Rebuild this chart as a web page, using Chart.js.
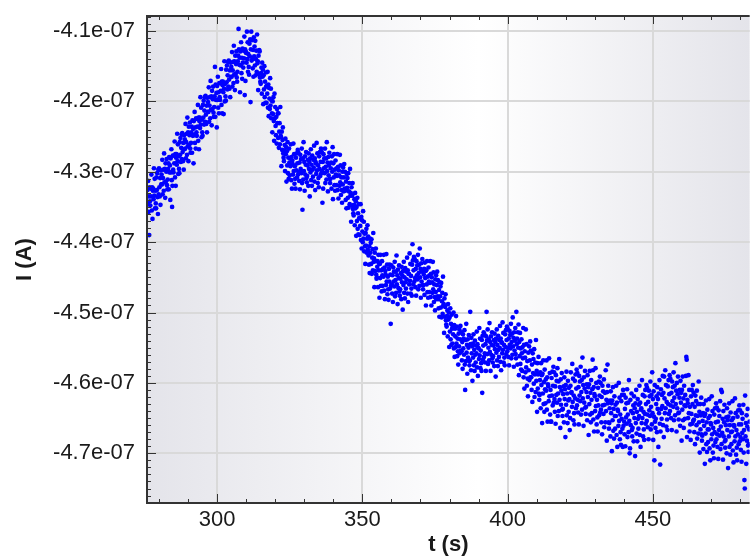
<!DOCTYPE html>
<html>
<head>
<meta charset="utf-8">
<style>
  html, body { margin: 0; padding: 0; background: #ffffff; }
  #c { display: block; }
</style>
<script src="https://cdn.jsdelivr.net/npm/chart.js@4.4.1/dist/chart.umd.min.js"></script>
</head>
<body>
<canvas id="c" width="752" height="558"></canvas>
<script>
// Sampling grid of the measurement (seconds)
const tStart = 276.0;
const tStep = 0.125;

// Current, in nA (8 samples per second, 276 s .. 483 s)
const currentNA = [
-432.6,-434.6,-431.3,-435.7,-433.5,-439.0,-432.2,-434.2,
-434.8,-432.4,-433.5,-430.4,-435.5,-432.2,-436.7,-432.7,
-432.4,-433.9,-429.5,-433.4,-431.0,-435.2,-432.7,-434.5,
-435.2,-430.8,-432.6,-430.2,-433.6,-436.0,-429.7,-433.2,
-429.5,-432.2,-433.5,-430.9,-434.7,-429.8,-431.8,-430.4,
-431.8,-428.3,-433.2,-430.9,-429.7,-432.7,-427.4,-431.5,
-429.6,-433.7,-428.8,-431.4,-430.0,-428.2,-431.9,-432.5,
-431.1,-429.6,-428.8,-432.5,-427.9,-430.1,-429.1,-434.0,
-428.1,-430.1,-426.8,-431.2,-435.0,-432.0,-427.7,-429.7,
-430.1,-427.7,-428.8,-425.7,-430.8,-427.5,-432.0,-428.0,
-427.5,-429.0,-424.6,-428.5,-426.1,-430.3,-427.8,-429.6,
-430.2,-425.8,-427.6,-425.2,-428.6,-426.6,-424.7,-428.2,
-424.5,-427.2,-428.5,-425.9,-429.7,-424.8,-426.8,-425.4,
-426.7,-423.2,-428.1,-425.8,-424.6,-427.6,-422.3,-426.4,
-424.4,-428.5,-423.6,-426.2,-424.8,-423.0,-426.7,-427.3,
-425.9,-424.4,-423.6,-427.3,-422.7,-424.9,-423.9,-428.8,
-422.8,-424.8,-421.5,-425.9,-423.7,-426.7,-422.4,-424.4,
-424.9,-422.5,-423.6,-420.5,-425.6,-422.3,-426.8,-422.8,
-422.3,-423.8,-419.4,-423.3,-420.9,-425.1,-422.6,-424.4,
-424.9,-420.5,-422.3,-419.9,-423.3,-421.3,-419.4,-422.9,
-419.2,-421.9,-423.2,-420.6,-424.4,-419.5,-421.5,-420.1,
-421.5,-418.0,-422.9,-420.6,-419.4,-422.4,-417.1,-421.2,
-419.3,-423.4,-418.5,-421.1,-419.7,-417.9,-421.6,-422.2,
-420.8,-419.3,-415.1,-422.2,-417.6,-419.8,-418.8,-423.7,
-417.8,-419.8,-416.5,-420.9,-418.7,-421.7,-417.4,-419.4,
-419.8,-417.4,-418.5,-415.4,-420.5,-417.2,-421.7,-417.7,
-417.2,-418.7,-421.8,-418.2,-414.3,-420.0,-417.5,-419.3,
-419.9,-415.5,-417.3,-414.9,-418.3,-416.3,-414.4,-417.9,
-414.2,-416.9,-418.2,-415.6,-419.4,-414.5,-416.5,-415.1,
-416.5,-413.0,-417.9,-415.6,-414.4,-417.4,-412.1,-416.2,
-414.3,-418.4,-413.5,-416.1,-414.7,-412.9,-416.6,-417.2,
-415.8,-414.3,-413.5,-409.7,-412.6,-414.8,-413.8,-418.7,
-412.9,-414.9,-411.6,-416.0,-413.8,-416.8,-412.5,-414.5,
-415.2,-412.8,-413.9,-410.8,-419.1,-412.6,-417.1,-413.1,
-413.0,-414.5,-410.1,-414.0,-411.6,-415.8,-413.3,-415.1,
-416.2,-411.8,-413.6,-411.2,-420.1,-412.6,-410.1,-414.2,
-411.3,-414.0,-415.3,-412.7,-416.5,-410.9,-413.6,-412.2,
-414.9,-411.4,-416.3,-414.0,-412.8,-415.8,-410.5,-414.6,
-414.3,-418.4,-413.5,-416.1,-412.7,-412.9,-416.6,-417.2,
-417.5,-416.0,-415.2,-418.9,-414.5,-416.5,-415.5,-420.4,
-416.3,-418.3,-415.0,-419.4,-417.2,-420.2,-415.9,-417.9,
-420.2,-417.8,-418.9,-415.8,-420.9,-417.6,-422.1,-418.1,
-419.6,-421.1,-416.7,-420.6,-418.2,-422.4,-419.9,-421.7,
-424.4,-420.0,-421.8,-419.4,-422.8,-425.6,-418.9,-422.4,
-420.8,-423.5,-424.8,-422.2,-426.0,-421.1,-423.1,-421.7,
-425.2,-421.7,-426.6,-424.3,-423.1,-426.1,-420.8,-424.9,
-425.1,-429.2,-424.3,-426.9,-425.5,-423.7,-427.4,-428.0,
-428.5,-427.0,-426.2,-429.9,-425.3,-427.5,-426.5,-431.4,
-427.1,-429.1,-425.8,-430.2,-428.0,-431.0,-426.7,-428.7,
-430.5,-428.1,-429.2,-426.1,-431.2,-427.9,-432.4,-428.4,
-428.9,-430.4,-426.0,-429.9,-427.5,-431.7,-429.2,-431.0,
-432.4,-428.0,-429.8,-427.4,-430.8,-428.8,-426.9,-430.4,
-427.3,-430.0,-431.3,-428.7,-432.5,-427.6,-429.6,-428.2,
-430.2,-426.7,-431.6,-435.4,-428.1,-431.1,-425.8,-429.9,
-428.6,-432.7,-427.8,-430.4,-429.0,-427.2,-430.9,-431.5,
-430.6,-429.1,-428.3,-432.0,-427.4,-429.6,-428.6,-433.5,
-428.1,-430.1,-426.8,-431.2,-429.0,-432.0,-427.7,-429.7,
-430.7,-428.3,-429.4,-426.3,-431.4,-428.1,-432.6,-428.6,
-428.8,-430.3,-425.9,-429.8,-427.4,-431.6,-429.1,-430.9,
-432.2,-427.8,-429.6,-427.2,-430.6,-428.6,-426.7,-430.2,
-427.2,-429.9,-434.4,-428.6,-432.4,-427.5,-429.5,-428.1,
-430.2,-426.7,-431.6,-429.3,-428.1,-431.1,-425.8,-429.9,
-428.7,-432.8,-427.9,-430.5,-429.1,-427.3,-431.0,-431.6,
-431.0,-429.5,-428.7,-432.4,-427.8,-430.0,-426.5,-433.9,
-428.8,-430.8,-427.5,-431.9,-429.7,-432.7,-428.4,-430.4,
-431.9,-429.5,-430.6,-427.5,-432.6,-429.3,-433.8,-429.8,
-430.5,-432.0,-427.6,-431.5,-429.1,-433.3,-430.8,-432.6,
-434.4,-430.0,-431.8,-429.4,-432.8,-430.8,-428.9,-432.4,
-430.0,-432.7,-434.0,-431.4,-435.2,-430.3,-432.3,-430.9,
-433.7,-430.2,-435.1,-432.8,-431.6,-434.6,-429.6,-433.4,
-433.0,-437.1,-432.2,-434.8,-433.4,-431.6,-435.3,-435.9,
-436.2,-434.7,-433.9,-437.6,-433.0,-435.2,-434.2,-439.1,
-435.0,-437.0,-433.7,-438.1,-435.9,-438.9,-434.6,-436.6,
-439.0,-436.6,-437.7,-434.6,-439.7,-436.4,-440.9,-436.9,
-438.5,-440.0,-435.6,-439.5,-437.1,-441.3,-438.8,-440.6,
-443.1,-438.7,-440.5,-438.1,-441.5,-439.5,-437.6,-441.1,
-439.2,-441.9,-443.2,-440.6,-444.4,-439.5,-441.5,-440.1,
-443.1,-439.6,-444.5,-442.2,-441.0,-444.0,-438.7,-442.8,
-442.3,-446.4,-441.5,-444.1,-442.7,-440.9,-444.6,-445.2,
-445.0,-443.5,-442.7,-446.4,-441.8,-444.0,-443.0,-447.9,
-443.1,-445.1,-441.8,-446.2,-444.0,-447.0,-442.7,-444.7,
-446.2,-443.8,-444.9,-441.8,-446.9,-443.6,-448.1,-444.1,
-444.6,-446.1,-441.7,-445.6,-443.2,-447.4,-444.9,-446.7,
-448.2,-443.8,-445.6,-443.2,-446.6,-444.6,-451.6,-446.2,
-443.3,-446.0,-447.3,-444.7,-448.5,-443.6,-445.6,-444.2,
-446.3,-442.8,-447.7,-445.4,-444.2,-447.2,-441.9,-446.0,
-444.7,-448.8,-443.9,-446.5,-445.1,-443.3,-447.0,-447.6,
-446.7,-445.2,-444.4,-448.1,-443.5,-445.7,-444.7,-449.6,
-444.1,-446.1,-442.8,-447.2,-445.0,-448.0,-443.7,-445.7,
-446.6,-444.2,-445.3,-442.2,-447.3,-444.0,-448.5,-444.5,
-444.5,-446.0,-441.6,-445.5,-443.1,-447.3,-444.8,-446.6,
-447.6,-443.2,-440.3,-442.6,-446.0,-444.0,-442.1,-445.6,
-442.4,-445.1,-446.4,-443.8,-447.6,-442.7,-444.7,-443.3,
-445.3,-441.8,-446.7,-444.4,-443.2,-446.2,-440.9,-445.0,
-443.8,-447.9,-443.0,-445.6,-444.2,-442.4,-446.1,-446.7,
-446.1,-444.6,-443.8,-447.5,-442.9,-445.1,-444.1,-449.0,
-444.0,-446.0,-442.7,-447.1,-444.9,-447.9,-443.6,-445.6,
-447.1,-444.7,-445.8,-442.7,-447.8,-444.5,-449.0,-445.0,
-445.7,-447.2,-442.8,-446.7,-444.3,-448.5,-446.0,-447.8,
-449.7,-445.3,-447.1,-444.7,-448.1,-446.1,-444.2,-447.7,
-445.4,-448.1,-449.4,-446.8,-450.6,-445.7,-447.7,-446.3,
-449.3,-445.8,-450.7,-448.4,-447.2,-450.2,-444.9,-449.0,
-448.8,-452.9,-448.0,-450.6,-449.2,-447.4,-451.1,-451.7,
-452.0,-450.5,-449.7,-453.4,-448.8,-451.0,-450.0,-454.9,
-450.7,-452.7,-449.4,-453.8,-451.6,-454.6,-450.3,-452.3,
-454.4,-452.0,-453.1,-450.0,-455.1,-451.8,-456.3,-452.3,
-453.4,-454.9,-450.5,-454.4,-452.0,-456.2,-453.7,-455.5,
-457.4,-453.0,-454.8,-452.4,-455.8,-453.8,-451.9,-455.4,
-452.8,-455.5,-456.8,-454.2,-458.0,-453.1,-455.1,-453.7,
-456.0,-452.5,-457.4,-461.0,-453.9,-456.9,-451.6,-455.7,
-454.6,-458.7,-453.8,-456.4,-455.0,-453.2,-456.9,-457.5,
-456.8,-449.9,-454.5,-458.2,-453.6,-455.8,-454.8,-459.7,
-454.4,-456.4,-453.1,-457.5,-455.3,-458.3,-454.0,-456.0,
-457.1,-454.7,-455.8,-452.7,-457.8,-454.5,-459.0,-455.0,
-455.1,-456.6,-452.2,-456.1,-453.7,-457.9,-455.4,-457.2,
-458.3,-453.9,-461.4,-453.3,-456.7,-454.7,-452.8,-456.3,
-453.1,-455.8,-457.1,-454.5,-458.3,-453.4,-449.9,-454.0,
-455.9,-452.4,-457.3,-455.0,-453.8,-456.8,-451.5,-455.6,
-454.2,-458.3,-453.4,-456.0,-454.6,-452.8,-456.5,-457.1,
-456.2,-454.7,-453.9,-457.6,-453.0,-455.2,-454.2,-459.1,
-453.7,-455.7,-452.4,-456.8,-454.6,-457.6,-453.3,-455.3,
-456.3,-453.9,-455.0,-451.9,-457.0,-453.7,-458.2,-454.2,
-454.3,-455.8,-451.4,-455.3,-452.9,-457.1,-454.6,-456.4,
-457.5,-453.1,-454.9,-452.5,-455.9,-453.9,-452.0,-455.5,
-452.3,-455.0,-456.3,-453.7,-457.5,-452.6,-454.6,-453.2,
-455.1,-451.6,-456.5,-454.2,-453.0,-456.0,-450.7,-454.8,
-453.6,-457.7,-452.8,-455.4,-454.0,-452.2,-455.9,-456.5,
-449.9,-454.5,-453.7,-457.4,-452.8,-455.0,-451.7,-458.9,
-454.2,-456.2,-452.9,-457.3,-455.1,-458.1,-453.8,-455.8,
-458.3,-454.9,-456.5,-452.2,-459.2,-454.6,-460.8,-455.5,
-456.4,-458.5,-452.4,-457.8,-454.5,-460.4,-456.9,-459.4,
-461.9,-455.7,-458.2,-454.8,-459.6,-456.8,-454.1,-459.2,
-455.4,-459.2,-461.0,-457.4,-462.7,-455.8,-458.6,-456.6,
-460.1,-455.2,-462.0,-458.8,-457.1,-461.3,-453.9,-459.7,
-458.3,-464.1,-457.2,-460.8,-458.8,-456.3,-461.5,-462.4,
-461.7,-459.6,-458.5,-463.6,-457.2,-460.3,-458.9,-465.7,
-458.7,-461.5,-456.8,-463.0,-459.9,-464.1,-458.1,-460.9,
-462.9,-459.5,-461.1,-456.8,-463.8,-459.2,-465.5,-460.2,
-460.5,-462.6,-456.5,-461.9,-458.6,-464.5,-461.0,-465.5,
-465.5,-459.3,-461.8,-458.4,-463.2,-460.4,-457.7,-462.8,
-458.5,-462.3,-464.1,-460.5,-465.8,-458.9,-461.7,-459.7,
-462.8,-457.9,-464.7,-461.5,-459.8,-464.0,-456.6,-462.4,
-460.6,-466.4,-459.5,-463.1,-461.1,-458.6,-463.8,-464.7,
-463.7,-461.6,-460.5,-465.6,-459.2,-462.3,-460.9,-467.7,
-460.3,-463.1,-458.4,-464.6,-461.5,-465.7,-459.7,-462.5,
-464.1,-460.7,-462.3,-466.7,-465.0,-460.4,-458.5,-461.4,
-461.3,-463.4,-457.3,-462.7,-459.4,-465.3,-461.8,-464.3,
-465.9,-459.7,-462.2,-458.8,-463.6,-460.8,-458.1,-463.2,
-458.6,-462.4,-464.2,-460.6,-465.9,-459.0,-461.8,-459.8,
-462.6,-457.7,-464.5,-461.3,-459.6,-463.8,-456.4,-462.2,
-460.3,-466.1,-459.2,-462.8,-460.8,-458.3,-463.5,-464.4,
-463.4,-461.3,-460.2,-465.3,-458.9,-462.0,-460.6,-467.4,
-460.2,-463.0,-458.3,-464.5,-461.4,-465.6,-459.6,-462.4,
-464.3,-460.9,-456.7,-458.2,-465.2,-460.6,-466.9,-461.6,
-461.9,-464.0,-457.9,-463.3,-460.0,-465.9,-462.4,-464.9,
-466.9,-460.7,-463.2,-459.8,-464.6,-461.8,-459.1,-464.2,
-460.0,-463.8,-465.6,-462.0,-467.3,-460.4,-463.2,-461.2,
-464.4,-459.5,-466.3,-463.1,-461.4,-465.6,-458.2,-464.0,
-462.4,-468.2,-461.3,-457.4,-462.9,-460.4,-465.6,-466.5,
-465.7,-463.6,-462.5,-467.6,-461.2,-464.3,-462.9,-469.7,
-462.5,-465.3,-460.6,-466.8,-463.7,-467.9,-461.9,-464.7,
-466.5,-463.1,-464.7,-460.4,-467.4,-462.8,-469.1,-463.8,
-464.0,-466.1,-460.0,-465.4,-462.1,-468.0,-464.5,-467.0,
-468.8,-462.6,-465.1,-461.7,-466.5,-469.1,-461.0,-466.1,
-461.7,-465.5,-467.3,-463.7,-469.0,-462.1,-464.9,-462.9,
-465.8,-460.9,-467.7,-464.5,-462.8,-467.0,-459.6,-465.4,
-470.0,-469.3,-462.4,-466.0,-464.0,-461.5,-466.7,-467.6,
-466.4,-464.3,-463.2,-468.3,-461.9,-465.0,-463.6,-470.4,
-462.9,-465.7,-461.0,-467.2,-464.1,-468.3,-462.3,-465.1,
-466.5,-463.1,-464.7,-460.4,-467.4,-462.8,-469.1,-463.8,
-463.6,-465.7,-459.6,-465.0,-461.7,-467.6,-464.1,-466.6,
-468.1,-461.9,-464.4,-461.0,-465.8,-463.0,-460.3,-465.4,
-460.7,-464.5,-466.3,-462.7,-468.0,-461.1,-463.9,-461.9,
-464.7,-459.8,-466.6,-463.4,-461.7,-465.9,-458.5,-464.3,
-462.3,-468.1,-461.2,-464.8,-471.0,-460.3,-465.5,-466.4,
-465.1,-463.0,-461.9,-467.0,-460.6,-463.7,-462.3,-469.1,
-461.5,-464.3,-459.6,-465.8,-471.6,-466.9,-460.9,-463.7,
-465.1,-461.7,-463.3,-459.0,-466.0,-461.4,-467.7,-459.1,
-462.2,-464.3,-458.2,-463.6,-460.3,-466.2,-462.7,-465.2,
-466.7,-460.5,-463.0,-459.6,-464.4,-461.6,-458.9,-464.0,
-459.4,-463.2,-465.0,-461.4,-466.7,-459.8,-462.6,-460.6,
-463.4,-458.5,-465.3,-462.1,-460.4,-464.6,-457.2,-463.0,
-461.1,-466.9,-460.0,-463.6,-461.6,-459.1,-464.3,-465.2,
-464.2,-462.1,-461.0,-466.1,-459.7,-462.8,-461.4,-468.2,
-461.0,-463.8,-459.1,-465.3,-462.2,-466.4,-460.4,-463.2,
-465.1,-461.7,-463.3,-459.0,-456.3,-456.7,-467.7,-462.4,
-462.9,-465.0,-458.9,-464.3,-461.0,-466.9,-463.4,-465.9,
-468.1,-461.9,-464.4,-461.0,-465.8,-463.0,-460.3,-465.4,
-461.4,-465.2,-467.0,-463.4,-468.7,-461.8,-464.6,-462.6,
-466.0,-461.1,-467.9,-464.7,-463.0,-467.2,-459.8,-465.6,
-464.1,-469.9,-463.0,-466.6,-464.6,-462.1,-467.3,-468.2,
-467.5,-465.4,-464.3,-469.4,-463.0,-466.1,-464.7,-471.5,
-464.4,-467.2,-462.5,-468.7,-465.6,-469.8,-463.8,-466.6,
-468.4,-465.0,-466.6,-462.3,-469.3,-464.7,-471.0,-465.7,
-465.9,-468.0,-461.9,-467.3,-464.0,-469.9,-466.4,-468.9,
-470.7,-464.5,-467.0,-463.6,-468.4,-465.6,-462.9,-468.0,
-463.5,-467.3,-469.1,-465.5,-470.8,-463.9,-466.7,-464.7,
-467.5,-462.6,-469.4,-466.2,-461.0,-468.7,-461.3,-467.1,
-465.1,-470.9,-464.0,-467.6,-465.6,-463.1,-468.3,-469.2,
-468.1,-466.0,-464.9,-470.0,-463.6,-466.7,-465.3,-472.1,
-464.8,-467.6,-462.9,-469.1,-466.0,-470.2,-464.2,-467.0,
-468.7,-465.3,-466.9,-462.6,-469.6,-465.0,-471.3,-466.0,
-466.2,-468.3,-462.2,-467.6,-464.3,-470.2,-466.7,-469.2,
-471.0,-464.8,-467.3,-463.9,-468.7,-465.9,-463.2,-468.3,
-463.9,-467.7,-469.5,-465.9,-471.2,-464.3,-467.1,-465.1,
-468.0,-463.1,-469.9,-466.7,-473.8,-475.0,-461.8,-467.6,
-465.7,-471.5,-464.6,-468.2,-466.2,-463.7,-468.9,-469.8,
-468.7,-466.6,-465.5
];

// Axis ranges and ticks
const xRange = [275.86, 483.3];
const yRange = [-4.7706e-7, -4.0787e-7];
const xTickValues = [300, 350, 400, 450];
const xTickLabels = ['300', '350', '400', '450'];
const yTickValues = [-4.7e-7, -4.6e-7, -4.5e-7, -4.4e-7, -4.3e-7, -4.2e-7, -4.1e-7];
const yTickLabels = ['-4.7e-07', '-4.6e-07', '-4.5e-07', '-4.4e-07', '-4.3e-07', '-4.2e-07', '-4.1e-07'];
const xMinorStep = 10;
const yMinorStep = 1e-9;
const xTitle = 't (s)';
const yTitle = 'I (A)';

const points = currentNA.map((v, i) => ({ x: tStart + i * tStep, y: v * 1e-9 }));

const FONT = "'Liberation Sans', Arial, sans-serif";

const framePlugin = {
  id: 'framePlugin',
  beforeDraw(chart) {
    const { ctx, chartArea: a } = chart;
    const g = ctx.createLinearGradient(a.left, 0, a.right, 0);
    g.addColorStop(0, '#e4e4ea');
    g.addColorStop(0.55, '#ffffff');
    g.addColorStop(1, '#e4e4ea');
    ctx.save();
    ctx.fillStyle = g;
    ctx.fillRect(a.left, a.top, a.right - a.left, a.bottom - a.top);
    ctx.restore();
  },
  afterDraw(chart) {
    const { ctx, chartArea: a, scales } = chart;
    const xs = scales.x, ys = scales.y;
    ctx.save();
    ctx.strokeStyle = '#333333';
    ctx.lineWidth = 1;
    ctx.beginPath();
    for (let v = Math.ceil(xRange[0] / xMinorStep) * xMinorStep; v <= xRange[1]; v += xMinorStep) {
      const px = Math.round(xs.getPixelForValue(v)) + 0.5;
      const major = xTickValues.includes(v);
      const lb = major ? 9 : 4, lt = major ? 8 : 4;
      ctx.moveTo(px, a.bottom); ctx.lineTo(px, a.bottom - lb);
      ctx.moveTo(px, a.top); ctx.lineTo(px, a.top + lt);
    }
    const n0 = Math.ceil(yRange[0] / yMinorStep - 1e-6);
    const n1 = Math.floor(yRange[1] / yMinorStep + 1e-6);
    for (let n = n0; n <= n1; n++) {
      const major = (n % 10) === 0;
      const py = Math.round(ys.getPixelForValue(n * yMinorStep)) + 0.5;
      ctx.moveTo(a.left, py); ctx.lineTo(a.left + (major ? 9 : 4), py);
    }
    ctx.stroke();
    ctx.lineWidth = 2;
    ctx.beginPath();
    ctx.moveTo(a.right, a.top); ctx.lineTo(a.left, a.top);
    ctx.lineTo(a.left, a.bottom); ctx.lineTo(a.right, a.bottom);
    ctx.stroke();
    ctx.restore();
  }
};

new Chart(document.getElementById('c'), {
  type: 'scatter',
  data: {
    datasets: [{
      data: points,
      backgroundColor: '#0000ff',
      borderWidth: 0,
      pointRadius: 2.35,
      pointHoverRadius: 2.35,
      clip: 0
    }]
  },
  options: {
    responsive: false,
    animation: false,
    devicePixelRatio: 1,
    layout: { padding: { top: 16, left: 0, right: 0, bottom: 0 } },
    plugins: { legend: { display: false }, tooltip: { enabled: false } },
    scales: {
      x: {
        type: 'linear',
        min: xRange[0], max: xRange[1],
        afterBuildTicks: s => { s.ticks = xTickValues.map(v => ({ value: v })); },
        afterFit: s => { s.height = 55; s.paddingLeft = 0; s.paddingRight = 0; },
        grid: { color: '#d9d9d9', lineWidth: 2, drawTicks: false },
        border: { display: false },
        ticks: {
          padding: 4,
          color: '#1a1a1a',
          font: { family: FONT, size: 22 },
          maxRotation: 0,
          autoSkip: false,
          callback: (v, i) => xTickLabels[i]
        },
        title: {
          display: true, text: xTitle, color: '#1a1a1a',
          font: { family: FONT, size: 22, weight: 'bold' },
          padding: { top: 0, bottom: 0 }
        }
      },
      y: {
        type: 'linear',
        min: yRange[0], max: yRange[1],
        afterBuildTicks: s => { s.ticks = yTickValues.map(v => ({ value: v })); },
        afterFit: s => { s.width = 147; s.paddingTop = 0; s.paddingBottom = 0; },
        grid: { color: '#d9d9d9', lineWidth: 2, drawTicks: false },
        border: { display: false },
        ticks: {
          padding: 12,
          color: '#1a1a1a',
          font: { family: FONT, size: 22 },
          autoSkip: false,
          callback: (v, i) => yTickLabels[i]
        },
        title: {
          display: true, text: yTitle, color: '#1a1a1a',
          font: { family: FONT, size: 22, weight: 'bold' },
          padding: { top: 12, bottom: 0 }
        }
      }
    }
  },
  plugins: [framePlugin]
});
</script>
</body>
</html>
